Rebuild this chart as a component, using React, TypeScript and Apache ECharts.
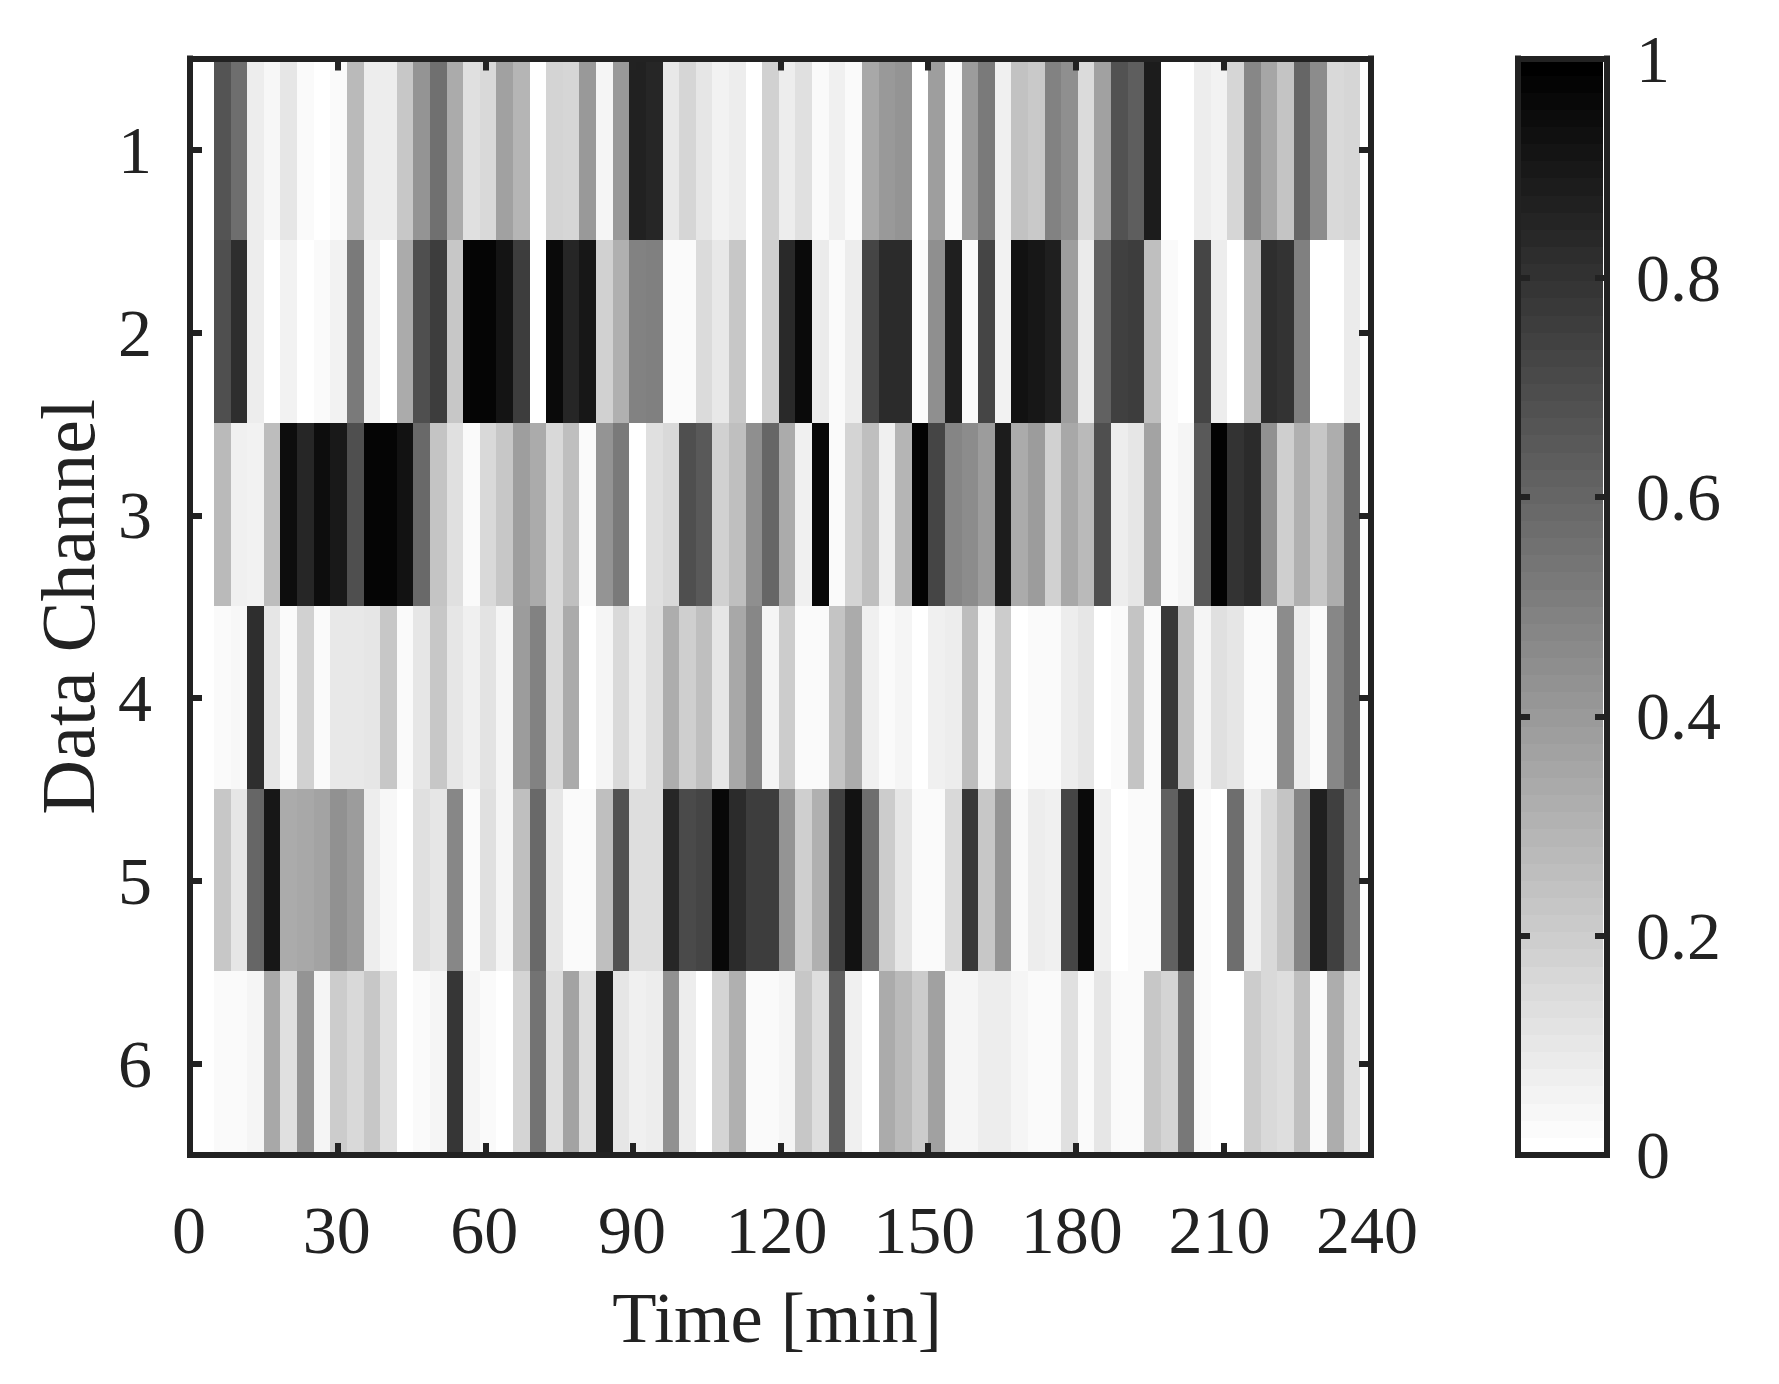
import { useEffect, useRef } from 'react';
import * as echarts from 'echarts';

const channels = ['1', '2', '3', '4', '5', '6'];
const timeTicks = [0, 240];
const cellStart = 4.88;
const cellWidth = 3.376;

const row1 = [.67, .57, .07, .03, .10, .02, 0, .02, .27, .07, .07, .22, .42, .56, .33, .12, .15, .37, .29, 0, .17, .16, .40, .04, .40, .87, .85, .09, .16, .10, .05, .07, 0, .18,
  .07, .12, .02, .06, .02, .34, .40, .42, 0, .38, .02, .39, .52, .06, .24, .21, .49, .44, .14, .37, .68, .63, .89, 0, 0, .07, .05, .16, .47, .35, .23, .60, .45, .15, .16];
const row2 = [.69, .82, .07, 0, .05, 0, .02, .05, .52, .05, 0, .33, .69, .76, .22, .98, .98, .92, .76, 0, .96, .85, .91, .18, .31, .49, .50, .02, .02, .14, .09, .22, 0, .19,
  .84, .96, .08, .02, .07, .73, .83, .83, .02, .44, .88, .02, .73, .05, .93, .91, .88, .38, .08, .62, .75, .76, .25, .02, 0, .73, .07, 0, .25, .82, .80, .50, 0, 0, .08];
const row3 = [.27, .06, .05, .26, .95, .85, .95, .90, .69, .98, .98, .93, .59, .23, .12, .02, .15, .22, .38, .33, .15, .25, .02, .42, .52, 0, .12, .15, .69, .65, .18, .25, .44, .60,
  .33, .06, .97, .02, .17, .25, .06, .29, .99, .73, .48, .45, .39, .89, .33, .39, .18, .34, .27, .69, .07, .10, .36, .02, .04, .65, .99, .80, .83, .43, .19, .31, .22, .32, .59];
const row4 = [.02, .03, .82, .10, .02, .18, .02, .09, .09, .10, .22, .02, .10, .22, .10, .06, .11, .04, .39, .49, .15, .33, 0, .04, .15, .07, .13, .32, .19, .25, .10, .34, .47, .04,
  .20, .02, .02, .23, .33, .06, .02, .04, 0, .06, .07, .26, .04, .20, 0, .02, .02, .07, .10, 0, .02, .23, .02, .78, .25, .04, .12, .10, .02, .02, .45, .07, .02, .47, .59];
const row5 = [.22, .10, .60, .91, .33, .34, .36, .43, .39, .07, .03, 0, .12, .10, .47, .02, .12, .04, .25, .59, .10, .02, .02, .25, .68, .13, .13, .85, .71, .73, .97, .83, .76, .76,
  .42, .19, .31, .75, .93, .57, .20, .10, .02, .02, .15, .78, .22, .42, .02, .07, .06, .73, .96, .06, 0, .02, .02, .62, .82, .02, 0, .57, .06, .15, .23, .48, .88, .75, .52];
const row6 = [.02, .02, .04, .34, .12, .42, .04, .20, .15, .22, .12, 0, .02, .04, .79, .04, .02, 0, .17, .55, .13, .36, .13, .88, .10, .06, .07, .43, .07, 0, .17, .31, .02, .02,
  .04, .22, .13, .63, .06, 0, .33, .27, .20, .37, .04, .04, .07, .07, .04, .02, .02, .12, .02, .10, .02, .02, .22, .17, .53, .02, 0, 0, .20, .15, .13, .25, .02, .32, .12];
const rows = [row1, row2, row3, row4, row5, row6];

// lower edge of each colormap step on the colorbar (64 step gray map)
const barLevels = [
  0, .0156, .0313, .0469, .0625, .0781, .0938, .1094, .125, .1406, .1563, .1719, .1875, .2031, .2188, .2344,
  .25, .2656, .2813, .2969, .3125, .3281, .3438, .3594, .375, .3906, .4063, .4219, .4375, .4531, .4688, .4844,
  .5, .5156, .5313, .5469, .5625, .5781, .5938, .6094, .625, .6406, .6563, .6719, .6875, .7031, .7188, .7344,
  .75, .7656, .7813, .7969, .8125, .8281, .8438, .8594, .875, .8906, .9063, .9219, .9375, .9531, .9688, .9844,
];
// a hair over 1/64 so rounded levels never leave a gap between steps
const barStep = 0.0158;

const FONT = '"Liberation Serif", serif';
const INK = '#222222';
const FONT_SIZE = 68;

function gray(v: number) {
  const g = Math.round(255 * (1 - v));
  return `rgb(${g},${g},${g})`;
}

const heatCells: number[][] = [];
rows.forEach((row, r) => {
  row.forEach((v, i) => {
    heatCells.push([cellStart + i * cellWidth, cellStart + (i + 1) * cellWidth, r, v]);
  });
});

const frameLine = { show: true, onZero: false, lineStyle: { color: INK, width: 6, cap: 'square' } };
const innerTick = { show: true, inside: true, length: 12, lineStyle: { color: INK, width: 6 } };
const digit = { fontFamily: FONT, fontSize: FONT_SIZE, color: INK };

export default function App() {
  const ref = useRef<HTMLDivElement | null>(null);

  useEffect(() => {
    if (!ref.current) return;
    const chart = echarts.init(ref.current, undefined, { renderer: 'svg' });

    const timeAxis = { type: 'value', gridIndex: 0, min: timeTicks[0], max: timeTicks[1], interval: 30, splitLine: { show: false }, axisLine: frameLine, axisTick: innerTick, z: 3 };
    const channelAxis = { type: 'category', gridIndex: 0, data: channels, inverse: true, splitLine: { show: false }, axisLine: frameLine, axisTick: { ...innerTick, alignWithLabel: true }, z: 3 };
    const barX = { type: 'value', gridIndex: 1, min: 0, max: 1, splitLine: { show: false }, axisLine: frameLine, axisTick: { show: false }, axisLabel: { show: false }, z: 3 };
    const barY = { type: 'value', gridIndex: 1, min: 0, max: 1, interval: 0.2, splitLine: { show: false }, axisLine: frameLine, axisTick: innerTick, z: 3 };

    chart.setOption({
      animation: false,
      backgroundColor: '#ffffff',
      textStyle: { fontFamily: FONT, color: INK },
      grid: [
        { left: 190, top: 58.5, width: 1181, height: 1096.5 },
        { left: 1518, top: 58.5, width: 89, height: 1096.5 },
      ],
      xAxis: [
        {
          ...timeAxis,
          position: 'bottom',
          axisLabel: {
            ...digit,
            margin: 41,
            hideOverlap: false,
            // the three digit labels sit a little left of their ticks
            formatter: (v: number) => (v >= 100 ? `{wide|${v}}` : `{narrow|${v}}`),
            rich: {
              wide: { ...digit, padding: [0, 8, 0, 0] },
              narrow: { ...digit, padding: [0, 2, 0, 0] },
            },
          },
          name: 'Time [min]',
          nameLocation: 'middle',
          nameGap: 126,
          nameTextStyle: { fontFamily: FONT, fontSize: 72.5, color: INK, padding: [0, 7, 0, 0] },
        },
        { ...timeAxis, position: 'top', axisLabel: { show: false } },
        { ...barX, position: 'bottom' },
        { ...barX, position: 'top' },
      ],
      yAxis: [
        {
          ...channelAxis,
          position: 'left',
          axisLabel: { ...digit, margin: 38, padding: [12, 0, 0, 0] },
          name: 'Data Channel',
          nameLocation: 'middle',
          nameGap: 84,
          nameRotate: 90,
          nameTextStyle: { fontFamily: FONT, fontSize: 76, color: INK },
        },
        { ...channelAxis, position: 'right', axisLabel: { show: false } },
        { ...barY, position: 'left', axisLabel: { show: false } },
        {
          ...barY,
          position: 'right',
          axisLabel: { show: true, ...digit, margin: 29, padding: [11, 0, 0, 0] },
        },
      ],
      series: [
        {
          type: 'custom',
          xAxisIndex: 0,
          yAxisIndex: 0,
          z: 1,
          silent: true,
          clip: false,
          data: heatCells,
          encode: { x: [0, 1], y: 2 },
          renderItem: (_p: any, api: any) => {
            const a = api.coord([api.value(0), api.value(2)]);
            const b = api.coord([api.value(1), api.value(2)]);
            const h = api.size([0, 1])[1];
            const x0 = Math.round(a[0]);
            const x1 = Math.round(b[0]);
            const y0 = Math.round(a[1] - h / 2 - 1);
            const y1 = Math.round(a[1] + h / 2 - 1);
            return {
              type: 'rect',
              shape: { x: x0, y: y0, width: x1 - x0, height: y1 - y0 },
              style: { fill: gray(api.value(3)) },
            };
          },
        },
        {
          type: 'custom',
          xAxisIndex: 2,
          yAxisIndex: 2,
          z: 1,
          silent: true,
          clip: true,
          data: barLevels.map((v) => [v]),
          encode: { y: 0 },
          renderItem: (_p: any, api: any) => {
            const v = api.value(0);
            const low = api.coord([0, v]);
            const high = api.coord([0.955, v + barStep]);
            const y0 = Math.round(high[1]);
            const y1 = Math.round(low[1]);
            return {
              type: 'rect',
              shape: { x: low[0], y: y0, width: high[0] - low[0], height: y1 - y0 },
              style: { fill: gray(v * 64 / 63) },
            };
          },
        },
      ],
    });

    return () => {
      chart.dispose();
    };
  }, []);

  return <div ref={ref} style={{ position: 'absolute', left: 0, top: 0, width: 1779, height: 1384 }} />;
}
